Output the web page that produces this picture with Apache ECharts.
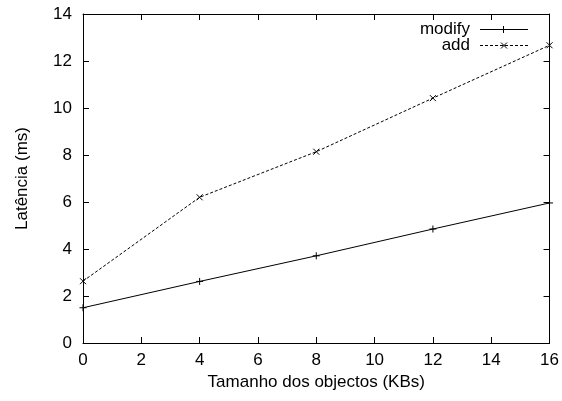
<!DOCTYPE html>
<html>
<head>
<meta charset="utf-8">
<script src="https://cdn.jsdelivr.net/npm/echarts@6/dist/echarts.min.js"></script>
<style>
html,body{margin:0;padding:0;background:#fff;}
#chart{width:562px;height:401px;}
</style>
</head>
<body>
<div id="chart"></div>
<script>
var sizes = [0, 4, 8, 12, 16];
var modifyVals = [1.5, 2.62, 3.71, 4.85, 5.96];
var addVals = [2.63, 6.2, 8.14, 10.42, 12.67];

var font = 'Liberation Sans, Arial, sans-serif';
var plus = 'path://M0,5L10,5M5,0L5,10';
var cross = 'path://M0,0L10,10M10,0L0,10';

function pairs(xs, ys) {
	var out = [];
	for (var i = 0; i < xs.length; i++) out.push([xs[i], ys[i]]);
	return out;
}

function seg(x1, y1, x2, y2, dash) {
	return { type: 'line', shape: { x1: x1, y1: y1, x2: x2, y2: y2 },
		style: { stroke: '#000', lineWidth: 1, lineDash: dash || null } };
}

var myChar = echarts.init(document.getElementById('chart'));
var myOption = {
	animation: false,
	grid: { left: 83, right: 12, top: 14, bottom: 58 },
	xAxis: [{
		type: 'value', min: 0, max: 16, interval: 2,
		name: 'Tamanho dos objectos (KBs)', nameLocation: 'middle', nameGap: 30,
		nameTextStyle: { color: '#000', fontSize: 17, fontFamily: font },
		axisLine: { onZero: false, lineStyle: { color: '#000', width: 1 } },
		axisTick: { inside: true, length: 6, lineStyle: { color: '#000' } },
		axisLabel: { color: '#000', fontSize: 17, fontFamily: font, margin: 9 },
		splitLine: { show: false }
	}, {
		type: 'value', min: 0, max: 16, interval: 2, position: 'top',
		axisLine: { show: true, onZero: false, lineStyle: { color: '#000', width: 1 } },
		axisTick: { inside: true, length: 6, lineStyle: { color: '#000' } },
		axisLabel: { show: false },
		splitLine: { show: false }
	}],
	yAxis: [{
		type: 'value', min: 0, max: 14, interval: 2,
		name: 'Latência (ms)', nameLocation: 'middle', nameGap: 52,
		nameTextStyle: { color: '#000', fontSize: 17, fontFamily: font },
		axisLine: { show: true, onZero: false, lineStyle: { color: '#000', width: 1 } },
		axisTick: { show: true, inside: true, length: 6, lineStyle: { color: '#000' } },
		axisLabel: { color: '#000', fontSize: 17, fontFamily: font, margin: 11 },
		splitLine: { show: false }
	}, {
		type: 'value', min: 0, max: 14, interval: 2, position: 'right',
		axisLine: { show: true, onZero: false, lineStyle: { color: '#000', width: 1 } },
		axisTick: { show: true, inside: true, length: 6, lineStyle: { color: '#000' } },
		axisLabel: { show: false },
		splitLine: { show: false }
	}],
	series: [{
		name: 'modify', type: 'line',
		data: pairs(sizes, modifyVals),
		symbol: plus, symbolSize: 7,
		itemStyle: { color: 'transparent', borderColor: '#000', borderWidth: 1 },
		lineStyle: { color: '#000', width: 1 }
	}, {
		name: 'add', type: 'line',
		data: pairs(sizes, addVals),
		symbol: cross, symbolSize: 6,
		itemStyle: { color: 'transparent', borderColor: '#000', borderWidth: 1 },
		lineStyle: { color: '#000', width: 1, type: [3, 2] }
	}],
	graphic: [
		{ type: 'text', x: 470, y: 29, style: { text: 'modify', fill: '#000', font: '17px ' + font, align: 'right', verticalAlign: 'middle' } },
		seg(480, 29.5, 528, 29.5),
		seg(503.5, 26, 503.5, 33),
		{ type: 'text', x: 470, y: 45, style: { text: 'add', fill: '#000', font: '17px ' + font, align: 'right', verticalAlign: 'middle' } },
		seg(480, 45.5, 528, 45.5, [3, 2]),
		seg(501, 42.5, 507, 48.5),
		seg(507, 42.5, 501, 48.5)
	]
};
myChar.setOption(myOption);
</script>
</body>
</html>
